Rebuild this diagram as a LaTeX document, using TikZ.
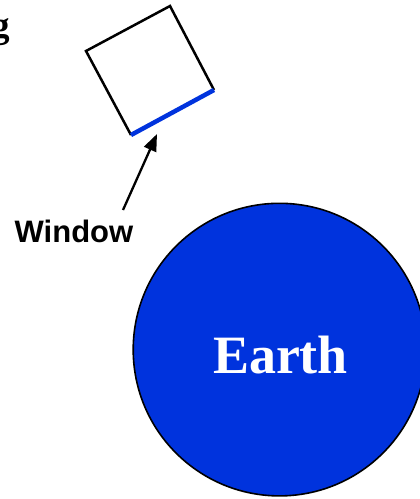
\documentclass[tikz,border=0pt]{standalone}
\usepackage{fontspec}
\setmainfont{Liberation Serif}
\newfontfamily\arialfont{Liberation Sans}
\usetikzlibrary{arrows.meta}
\definecolor{earthblue}{RGB}{0,51,221}
\tikzset{
  boxline/.style={draw=black,line width=2.5pt,line join=miter},
  windowline/.style={draw=earthblue,line width=4.5pt},
  pointer/.style={draw=black,line width=2.3pt,-{Triangle[length=17pt,width=13pt]}},
  labeltext/.style={inner sep=0pt,font=\arialfont\bfseries\fontsize{31}{31}\selectfont},
}
\begin{document}
\begin{tikzpicture}[x=1pt,y=-1pt]
\useasboundingbox (0,0) rectangle (420,499);
% cropped title letter
\node[inner sep=0pt,anchor=base east,font=\bfseries\fontsize{37}{37}\selectfont] (title) at (10.5,37) {g};
% Earth
\node[circle,draw=black,line width=1.6pt,fill=earthblue,minimum size=292.6pt,inner sep=0pt] (earth) at (279.5,349.6) {};
\node[inner sep=0pt,anchor=base,text=white,font=\bfseries\fontsize{54}{54}\selectfont] (earthlabel) at (280.5,373) {Earth};
% spacecraft box
\coordinate (A) at (86,51);
\coordinate (B) at (170,6);
\coordinate (C) at (214,90);
\coordinate (D) at (131,135);
\draw[boxline] (C) -- (B) -- (A) -- (D);
\draw[windowline] (D) -- (C);
% label and pointer
\node[labeltext,anchor=base west] (window) at (14.5,242) {Window};
\coordinate (tail) at (123,210);
\coordinate (tip) at (157,134);
\draw[pointer] (tail) -- (tip);
\end{tikzpicture}
\end{document}
